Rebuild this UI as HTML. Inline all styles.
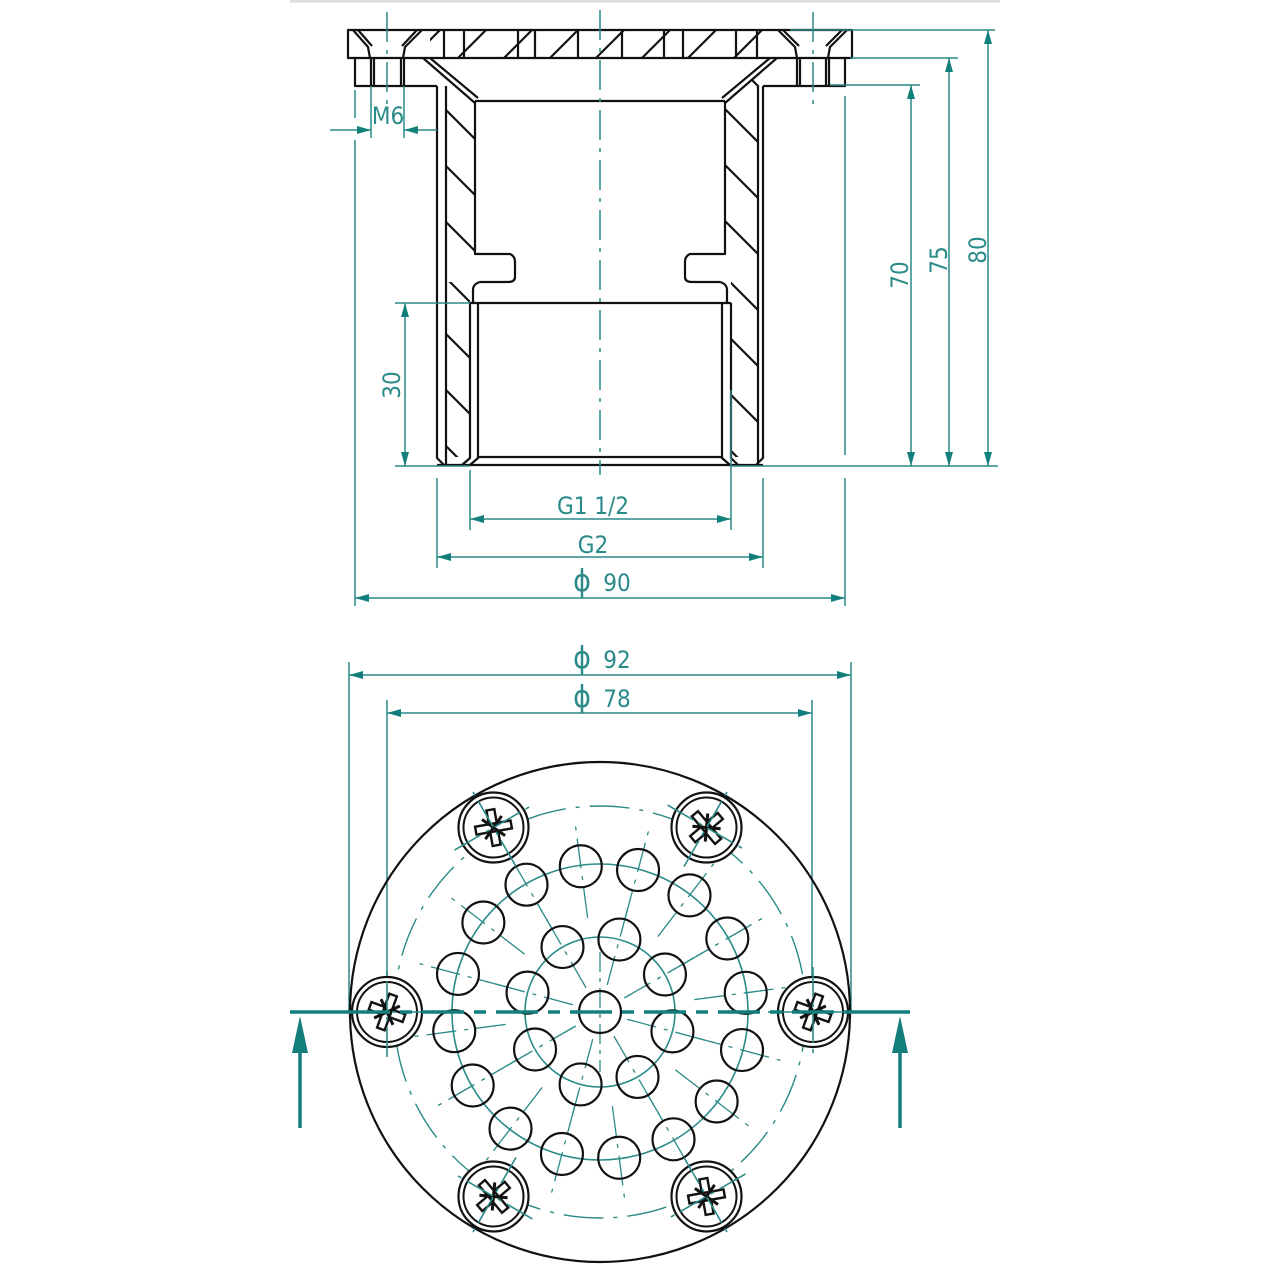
<!DOCTYPE html>
<html><head><meta charset="utf-8"><style>
html,body{margin:0;padding:0;background:#fff;width:1280px;height:1280px;overflow:hidden}
svg{display:block}
text{font-family:"DejaVu Sans Condensed","Liberation Sans Narrow","Liberation Sans",sans-serif;fill:#2a8a88}
</style></head><body>
<svg id="s" width="1280" height="1280" viewBox="0 0 1280 1280" xmlns="http://www.w3.org/2000/svg">
<defs>
<pattern id="hb" patternUnits="userSpaceOnUse" width="56" height="56">
<path d="M-4,-4 L60,60 M-4,52 L4,60 M52,-4 L60,4" stroke="#111" stroke-width="2.2"/>
</pattern>
<pattern id="hf" patternUnits="userSpaceOnUse" width="46" height="46" x="10">
<path d="M-4,50 L50,-4 M-4,4 L4,-4 M42,50 L50,42" stroke="#111" stroke-width="2.2"/>
</pattern>
<marker id="a" viewBox="0 0 14 8" refX="14" refY="4" markerWidth="14" markerHeight="8" markerUnits="userSpaceOnUse" orient="auto-start-reverse">
<path d="M0,0 L14,4 L0,8 z" fill="#127f7c"/></marker>
</defs>
<line x1="290" y1="1" x2="1000" y2="1" stroke="#ddd" stroke-width="3"/>

<g fill="url(#hb)">
<rect x="446" y="86" width="29" height="168"/>
<rect x="446" y="282" width="24" height="175"/>
<rect x="725" y="86" width="33" height="168"/>
<rect x="731" y="282" width="27" height="175"/>
<polygon points="437,60 423,60 475,103 475,86"/>
<polygon points="777,60 725,103 725,86 760,86"/>
</g>
<g fill="url(#hf)">
<rect x="430" y="30" width="345" height="28"/>
</g>

<g stroke="#111" stroke-width="2.2" fill="none" stroke-linejoin="round">
<rect x="348" y="30" width="504" height="28"/>
<path d="M355,58 V86 H437 M845,58 V86 H763"/>
<path d="M353,30 L368,47 L370,58 M358,30 L372,46 M422,30 L405,47 L403,58 M417,30 L402,46"/>
<path d="M371,58 V86 M374,58 V86 M401,58 V86 M404,58 V86"/>
<path d="M778,30 L795,47 L797,58 M783,30 L799,46 M847,30 L830,47 L828,58 M842,30 L826,46"/>
<path d="M797,58 V86 M800,58 V86 M826,58 V86 M829,58 V86"/>
<path d="M444,30V58 M464,30V58 M518,30V58 M535,30V58 M578,30V58 M622,30V58 M664,30V58 M683,30V58 M736,30V58 M757,30V58"/>
<path d="M423,58 L475,103 M430,58 L478,98 M777,58 L725,103 M770,58 L722,98"/>
<line x1="475" y1="101" x2="725" y2="101"/>
<path d="M437,86 V458 L444,465 M446,86 V465"/>
<path d="M475,101 V254 H510 Q515,256 515,262 V277 Q515,282 508,282 H480 Q473,284 473,290 V303"/>
<path d="M470,303 V458 L462,465 M478,303 V458 L470,465"/>
<path d="M763,86 V458 L756,465 M758,86 V465"/>
<path d="M725,101 V254 H690 Q685,256 685,262 V277 Q685,282 692,282 H720 Q727,284 727,290 V303"/>
<path d="M731,303 V458 L738,465 M722,303 V458 L730,465"/>
<line x1="470" y1="303" x2="731" y2="303"/>
<line x1="478" y1="457" x2="722" y2="457"/>
<line x1="437" y1="465" x2="763" y2="465"/>
</g>

<g stroke="#2a8a88" stroke-width="1.5" fill="none">
<line x1="600" y1="10" x2="600" y2="475" stroke-dasharray="30,8,4,8"/>
<line x1="387" y1="12" x2="387" y2="105" stroke-dasharray="30,8,4,8"/>
<line x1="813" y1="12" x2="813" y2="105" stroke-dasharray="30,8,4,8"/>
<line x1="790" y1="30" x2="995" y2="30"/>
<line x1="850" y1="58" x2="958" y2="58"/>
<line x1="830" y1="85" x2="920" y2="85"/>
<line x1="730" y1="466" x2="998" y2="466"/>
<line x1="845" y1="96" x2="845" y2="455"/>
<line x1="988" y1="30" x2="988" y2="466" marker-start="url(#a)" marker-end="url(#a)"/>
<line x1="949" y1="58" x2="949" y2="466" marker-start="url(#a)" marker-end="url(#a)"/>
<line x1="911" y1="85" x2="911" y2="466" marker-start="url(#a)" marker-end="url(#a)"/>
<line x1="395" y1="303" x2="470" y2="303"/>
<line x1="395" y1="466" x2="470" y2="466"/>
<line x1="405" y1="303" x2="405" y2="466" marker-start="url(#a)" marker-end="url(#a)"/>
<line x1="355" y1="90" x2="355" y2="118"/>
<line x1="355" y1="140" x2="355" y2="606"/>
<line x1="371" y1="86" x2="371" y2="138"/>
<line x1="404" y1="86" x2="404" y2="138"/>
<line x1="330" y1="130" x2="371" y2="130" marker-end="url(#a)"/>
<line x1="437" y1="130" x2="404" y2="130" marker-end="url(#a)"/>
<line x1="437" y1="478" x2="437" y2="568"/>
<line x1="763" y1="478" x2="763" y2="568"/>
<line x1="470" y1="470" x2="470" y2="530"/>
<line x1="731" y1="390" x2="731" y2="530"/>
<line x1="845" y1="478" x2="845" y2="606"/>
<line x1="470" y1="519" x2="731" y2="519" marker-start="url(#a)" marker-end="url(#a)"/>
<line x1="437" y1="557" x2="763" y2="557" marker-start="url(#a)" marker-end="url(#a)"/>
<line x1="355" y1="598" x2="845" y2="598" marker-start="url(#a)" marker-end="url(#a)"/>
<line x1="349" y1="662" x2="349" y2="1012"/>
<line x1="851" y1="662" x2="851" y2="1012"/>
<line x1="387" y1="700" x2="387" y2="1012"/>
<line x1="812" y1="700" x2="812" y2="1012"/>
<line x1="349" y1="675" x2="851" y2="675" marker-start="url(#a)" marker-end="url(#a)"/>
<line x1="387" y1="713" x2="812" y2="713" marker-start="url(#a)" marker-end="url(#a)"/>
</g>
<g font-size="24">
<text x="388" y="124" text-anchor="middle">M6</text>
<text x="593" y="514" text-anchor="middle">G1 1/2</text>
<text x="593" y="553" text-anchor="middle">G2</text>
<text x="582" y="591" text-anchor="middle" font-size="30">ϕ</text><text x="617" y="591" text-anchor="middle">90</text>
<text x="582" y="668" text-anchor="middle" font-size="30">ϕ</text><text x="617" y="668" text-anchor="middle">92</text>
<text x="582" y="707" text-anchor="middle" font-size="30">ϕ</text><text x="617" y="707" text-anchor="middle">78</text>
<text transform="translate(400,385) rotate(-90)" text-anchor="middle">30</text>
<text transform="translate(986,250) rotate(-90)" text-anchor="middle">80</text>
<text transform="translate(947,260) rotate(-90)" text-anchor="middle">75</text>
<text transform="translate(908,275) rotate(-90)" text-anchor="middle">70</text>
</g>

<g id="bv"></g>
</svg>
<script>
(function(){
var ns="http://www.w3.org/2000/svg",g=document.getElementById("bv"),cx=600,cy=1012;
function el(t,a){var e=document.createElementNS(ns,t);for(var k in a)e.setAttribute(k,a[k]);g.appendChild(e);return e;}
var T="#2a8a88",DD="30,8,4,8";
el("circle",{cx:cx,cy:cy,r:250,fill:"none",stroke:"#111","stroke-width":2.2});
el("circle",{cx:cx,cy:cy,r:206,fill:"none",stroke:T,"stroke-width":1.4,"stroke-dasharray":"40,10,4,10"});
el("circle",{cx:cx,cy:cy,r:148,fill:"none",stroke:T,"stroke-width":1.6});
el("circle",{cx:cx,cy:cy,r:75,fill:"none",stroke:T,"stroke-width":1.6});
function rad(a,r1,r2){var c=Math.cos(a),s=Math.sin(a);el("line",{x1:cx+r1*c,y1:cy+r1*s,x2:cx+r2*c,y2:cy+r2*s,stroke:T,"stroke-width":1.3,"stroke-dasharray":DD});}
var i,a;
for(i=0;i<16;i++){a=(-97.5+22.5*i)*Math.PI/180;rad(a,95,192);}
for(i=0;i<8;i++){a=(-75+45*i)*Math.PI/180;rad(a,28,118);}
el("line",{x1:cx,y1:cy-60,x2:cx,y2:cy+60,stroke:T,"stroke-width":1.3,"stroke-dasharray":"20,6,4,6"});
for(i=0;i<16;i++){a=(-97.5+22.5*i)*Math.PI/180;el("circle",{cx:cx+147*Math.cos(a),cy:cy+147*Math.sin(a),r:21,fill:"none",stroke:"#111","stroke-width":2.2});}
for(i=0;i<8;i++){a=(-75+45*i)*Math.PI/180;el("circle",{cx:cx+75*Math.cos(a),cy:cy+75*Math.sin(a),r:21,fill:"none",stroke:"#111","stroke-width":2.2});}
el("circle",{cx:cx,cy:cy,r:21,fill:"none",stroke:"#111","stroke-width":2.2});
for(i=0;i<6;i++){a=(180+60*i)*Math.PI/180;var sx=cx+213*Math.cos(a),sy=cy+213*Math.sin(a);
 el("circle",{cx:sx,cy:sy,r:35,fill:"#fff",stroke:"#111","stroke-width":2.2});
 el("circle",{cx:sx,cy:sy,r:30,fill:"none",stroke:"#111","stroke-width":2});
 var deg=(a*180/Math.PI)+20;
 var gg=document.createElementNS(ns,"g");gg.setAttribute("transform","translate("+sx+","+sy+") rotate("+deg+")");g.appendChild(gg);
 [[-18,-4,36,8],[-4,-18,8,36]].forEach(function(r){var e=document.createElementNS(ns,"rect");e.setAttribute("x",r[0]);e.setAttribute("y",r[1]);e.setAttribute("width",r[2]);e.setAttribute("height",r[3]);e.setAttribute("fill","#fff");e.setAttribute("stroke","#111");e.setAttribute("stroke-width","2.4");gg.appendChild(e);});
 var p=document.createElementNS(ns,"path");p.setAttribute("d","M-10,-10 L10,10 M-10,10 L10,-10");p.setAttribute("stroke","#111");p.setAttribute("stroke-width","3");gg.appendChild(p);
 var c=Math.cos(a),s=Math.sin(a);
 el("line",{x1:sx-45*c,y1:sy-45*s,x2:sx+45*c,y2:sy+45*s,stroke:T,"stroke-width":1.6,"stroke-dasharray":"30,6,4,6"});
 el("line",{x1:sx+45*s,y1:sy-45*c,x2:sx-45*s,y2:sy+45*c,stroke:T,"stroke-width":1.6,"stroke-dasharray":"30,6,4,6"});
}
el("line",{x1:290,y1:cy,x2:348,y2:cy,stroke:"#127f7c","stroke-width":3.5});
el("line",{x1:348,y1:cy,x2:852,y2:cy,stroke:"#127f7c","stroke-width":3.5,"stroke-dasharray":"42,10,12,10"});
el("line",{x1:852,y1:cy,x2:910,y2:cy,stroke:"#127f7c","stroke-width":3.5});
[300,900].forEach(function(x){
 el("line",{x1:x,y1:1128,x2:x,y2:1050,stroke:"#127f7c","stroke-width":3.5});
 el("path",{d:"M"+(x-8)+",1053 L"+x+",1016 L"+(x+8)+",1053 Z",fill:"#127f7c"});
});
})();
</script>
</body></html>
